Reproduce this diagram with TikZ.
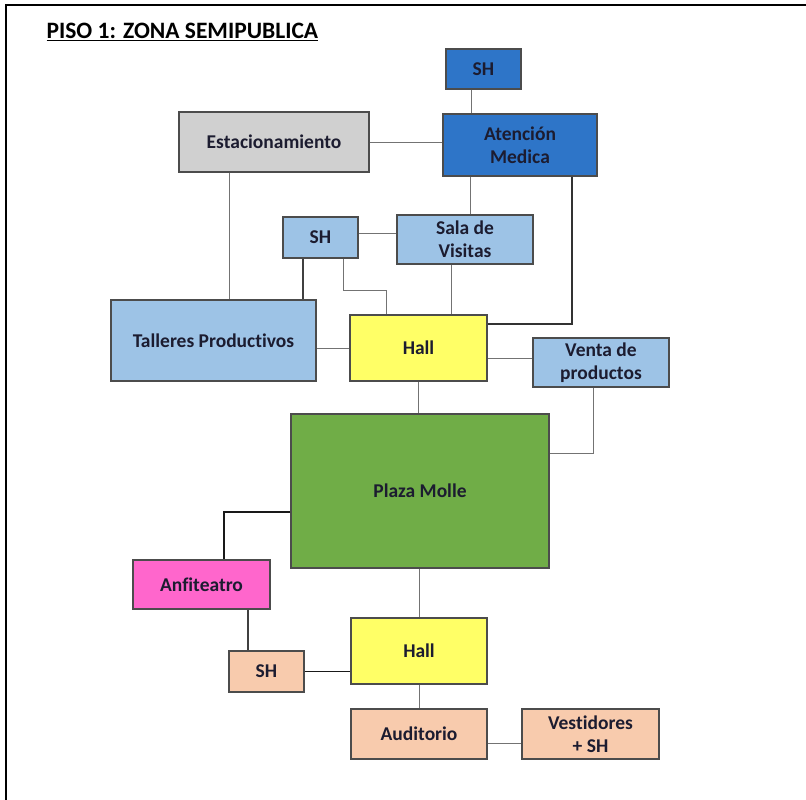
\documentclass[tikz,border=0pt]{standalone}
\usepackage{fontspec}
\setmainfont{Carlito}[Ligatures=NoCommon]
\definecolor{azul}{RGB}{46,117,200}
\definecolor{celeste}{RGB}{157,195,230}
\definecolor{gris}{RGB}{208,208,208}
\definecolor{amarillo}{RGB}{255,255,102}
\definecolor{verde}{RGB}{112,173,71}
\definecolor{rosa}{RGB}{255,102,204}
\definecolor{durazno}{RGB}{248,203,173}
\definecolor{letra}{RGB}{28,28,48}
\begin{document}
\begin{tikzpicture}[x=1pt,y=-1pt,
  ambiente/.style={draw=black!70, line width=1.1pt, inner sep=0pt, align=center, text=letra,
    font=\bfseries\fontsize{19.5}{23}\selectfont},
  enlace/.style={draw=black!55, line width=1pt},
  enlacefuerte/.style={draw=black!90, line width=1.3pt}]
\useasboundingbox (0,0) rectangle (806,800);
\draw[line width=1.5pt] (6,810) -- (6,5) -- (816,5);
\node[anchor=west, font=\bfseries\fontsize{23.5}{26}\selectfont] (titulo) at (43,32) {\underline{PISO 1: ZONA SEMIPUBLICA}};
\node[ambiente, fill=azul, minimum width=75, minimum height=40] (shmedica) at (483.5,69) {SH};
\node[ambiente, fill=azul, minimum width=154, minimum height=62] (medica) at (520,145) {Atención\\Medica};
\node[ambiente, fill=gris, minimum width=190, minimum height=60] (estac) at (274,142) {Estacionamiento};
\node[ambiente, fill=celeste, minimum width=75, minimum height=41] (shvisitas) at (320.5,237.5) {SH};
\node[ambiente, fill=celeste, minimum width=136, minimum height=49] (visitas) at (465,239.5) {Sala de\\Visitas};
\node[ambiente, fill=celeste, minimum width=205, minimum height=81] (talleres) at (213.5,340.5) {Talleres Productivos};
\node[ambiente, fill=amarillo, minimum width=137, minimum height=66] (hallalto) at (418.5,348) {Hall};
\node[ambiente, fill=celeste, minimum width=136, minimum height=49] (venta) at (601,362.5) {Venta de\\productos};
\node[ambiente, fill=verde, minimum width=258, minimum height=154] (plaza) at (420,491) {Plaza Molle};
\node[ambiente, fill=rosa, minimum width=137, minimum height=49] (anfi) at (201.5,584.5) {Anfiteatro};
\node[ambiente, fill=durazno, minimum width=75, minimum height=41] (shanfi) at (266.5,671.5) {SH};
\node[ambiente, fill=amarillo, minimum width=136, minimum height=66] (hallbajo) at (419,651) {Hall};
\node[ambiente, fill=durazno, minimum width=136, minimum height=50] (audit) at (419,734) {Auditorio};
\node[ambiente, fill=durazno, minimum width=137, minimum height=50] (vest) at (590.5,734) {Vestidores\\+ SH};
\draw[enlace] ([xshift=-12.5]shmedica.south) -- ([xshift=-12.5]shmedica.south |- medica.north);
\draw[enlace] (estac.east) -- (estac.east -| medica.west);
\draw[enlace] ([xshift=-50]medica.south) -- ([xshift=-50]medica.south |- visitas.north);
\draw[enlacefuerte, draw=black!80] ([xshift=52]medica.south) |- ([yshift=24]hallalto.east);
\draw[enlace] ([xshift=-14]visitas.south) -- ([xshift=-14]visitas.south |- hallalto.north);
\draw[enlace] ([yshift=4.5]shvisitas.east) -- ([yshift=4.5]shvisitas.east -| visitas.west);
\draw[enlace] ([xshift=-45]estac.south) -- ([xshift=-45]estac.south |- talleres.north);
\draw[enlacefuerte, draw=black!75] ([xshift=-17.5]shvisitas.south) -- ([xshift=-17.5]shvisitas.south |- talleres.north);
\draw[enlace] ([xshift=22.5]shvisitas.south) -- ++(0,32) -| ([xshift=-32.5]hallalto.north);
\draw[enlace] (hallalto.west) -- (hallalto.west -| talleres.east);
\draw[enlace] ([yshift=4.5]venta.west) -- ([yshift=4.5]venta.west -| hallalto.east);
\draw[enlace] (hallalto.south) -- (hallalto.south |- plaza.north);
\draw[enlace] ([xshift=-8]venta.south) |- ([yshift=38]plaza.east);
\draw[enlacefuerte] ([yshift=-21]plaza.west) -| ([xshift=22.5]anfi.north);
\draw[enlacefuerte, draw=black!75] ([xshift=46.5]anfi.south) -- ([xshift=46.5]anfi.south |- shanfi.north);
\draw[enlacefuerte, line width=1.8pt] (shanfi.east) -- (shanfi.east -| hallbajo.west);
\draw[enlace] (hallbajo.north |- plaza.south) -- (hallbajo.north);
\draw[enlace] (hallbajo.south) -- (audit.north);
\draw[enlace] ([yshift=-9]audit.east) -- ([yshift=-9]audit.east -| vest.west);
\end{tikzpicture}
\end{document}
